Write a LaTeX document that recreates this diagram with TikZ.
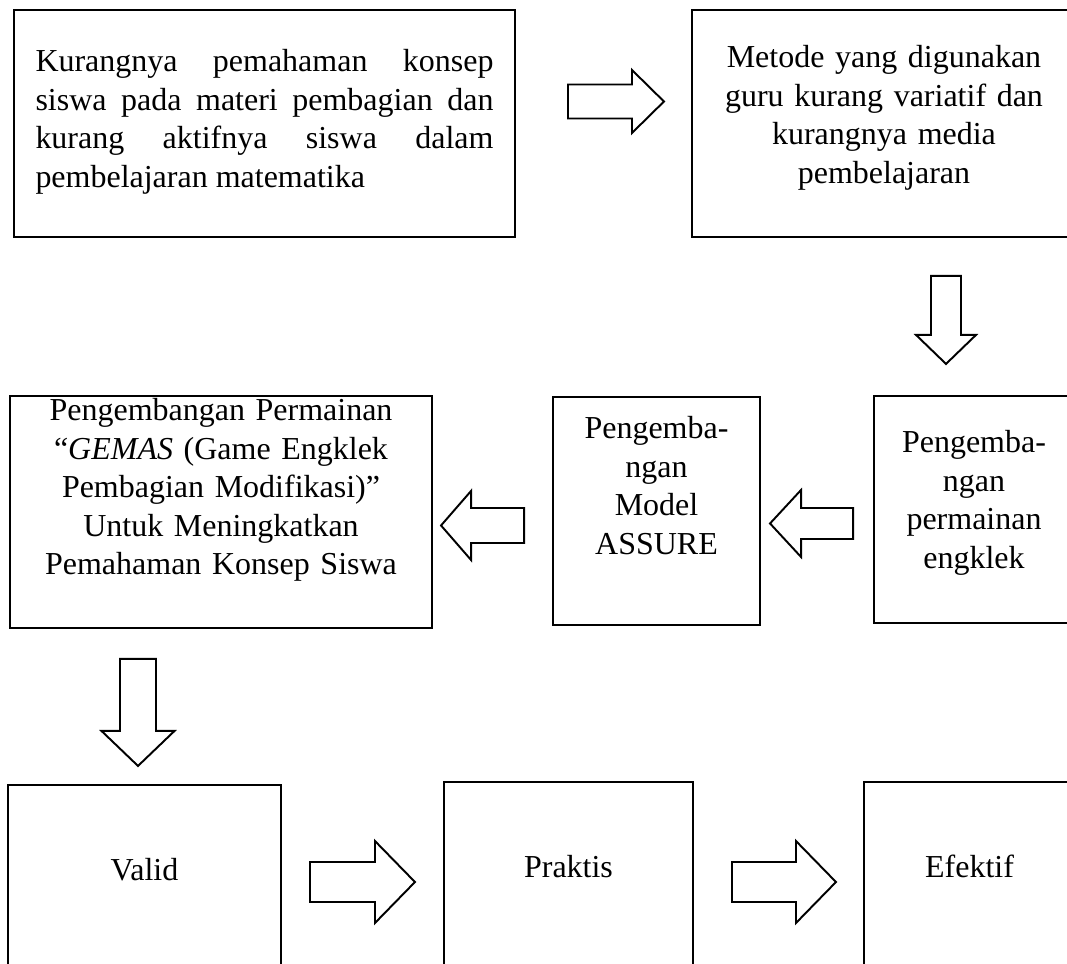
\documentclass[tikz,border=0pt]{standalone}
\usepackage{fontspec}
\setmainfont{Liberation Serif}
\usetikzlibrary{calc}

\begin{document}
\begin{tikzpicture}[
    stage/.style={
        rectangle,
        draw=black,
        line width=1.1pt,
        inner xsep=0pt,
        inner ysep=0pt,
        anchor=north,
        font=\fontsize{18.2}{21.9}\selectfont,
        align=center
    },
    arrowline/.style={
        draw=black,
        line width=1.1pt,
        line join=miter
    },
    pics/fatarrow/.style args={#1/#2/#3/#4}{
        code={
            \draw[arrowline] (0,#3) -- ({#1-#2},#3) -- ({#1-#2},#4) -- (#1,0)
                -- ({#1-#2},-#4) -- ({#1-#2},-#3) -- (0,-#3) -- cycle;
        }
    }
]
\useasboundingbox (0,0) rectangle (21.34,-19.26);
\clip (0,0) rectangle (21.34,-19.26);

% Top row: problem and its cause
\node[stage, align=justify, text width=9.16cm, minimum width=10.02cm, text height=1.24cm, text depth=3.30cm]
    (problem) at (5.29,-0.18) {Kurangnya pemahaman konsep\linebreak siswa pada materi pembagian dan\linebreak kurang aktifnya siswa dalam\linebreak pembelajaran matematika};
\node[stage, text width=7cm, minimum width=7.68cm, text height=1.16cm, text depth=3.38cm]
    (cause) at (17.68,-0.18) {Metode yang digunakan\\guru kurang variatif dan\\kurangnya media\\pembelajaran};

% Middle row (read right to left)
\node[stage, text width=8cm, minimum width=8.44cm, text height=0.50cm, text depth=4.14cm]
    (gemas) at (4.42,-7.90) {Pengembangan Permainan\\``\textit{GEMAS} (Game Engklek\\Pembagian Modifikasi)''\\Untuk Meningkatkan\\Pemahaman Konsep Siswa};
\node[stage, text width=3.6cm, minimum width=4.14cm, text height=0.84cm, text depth=3.72cm]
    (assure) at (13.13,-7.92) {Pengemba-\\ngan\\Model\\ASSURE};
\node[stage, text width=3.6cm, minimum width=4.00cm, text height=1.14cm, text depth=3.40cm]
    (engklek) at (19.48,-7.90) {Pengemba-\\ngan\\permainan\\engklek};

% Bottom row: product qualities
\node[stage, text width=5cm, minimum width=5.46cm, text height=1.92cm, text depth=2.2cm]
    (valid) at (2.89,-15.68) {Valid};
\node[stage, text width=4.5cm, minimum width=4.98cm, text height=1.92cm, text depth=2.2cm]
    (praktis) at (11.37,-15.62) {Praktis};
\node[stage, text width=3.8cm, minimum width=4.22cm, text height=1.92cm, text depth=2.2cm]
    (efektif) at (19.39,-15.62) {Efektif};

% Block arrows between the stages
\pic at ($(problem.north east)+(1.04,-1.85)$) {fatarrow=1.92/0.64/0.34/0.63};
\pic[rotate=-90] at ($(cause.south)+(1.24,-0.76)$) {fatarrow=1.76/0.58/0.30/0.60};
\pic[rotate=180] at ($(engklek.west)+(-0.40,-0.28)$) {fatarrow=1.66/0.62/0.31/0.67};
\pic[rotate=180] at ($(assure.west)+(-0.56,-0.29)$) {fatarrow=1.66/0.60/0.35/0.69};
\pic[rotate=-90] at ($(gemas.south)+(-1.66,-0.60)$) {fatarrow=2.14/0.70/0.36/0.73};
\pic at ($(valid.north east)+(0.56,-1.96)$) {fatarrow=2.10/0.80/0.40/0.82};
\pic at ($(praktis.north east)+(0.76,-2.02)$) {fatarrow=2.08/0.80/0.40/0.82};

\end{tikzpicture}
\end{document}
